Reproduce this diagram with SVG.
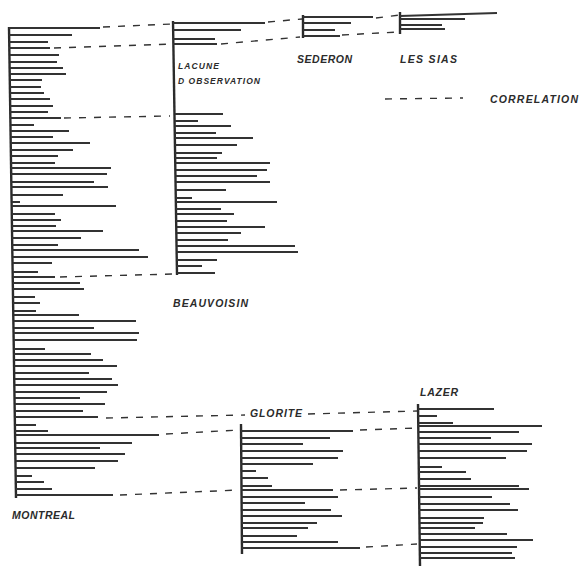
<svg xmlns="http://www.w3.org/2000/svg" width="579" height="568" viewBox="0 0 579 568">
<style>
.ax{stroke:#2b2b2b;stroke-width:2.4;fill:none}
.bar{stroke:#333;stroke-width:2;fill:none}
.cor{stroke:#333;stroke-width:1.4;stroke-dasharray:7 8;fill:none}
.lbl{font-family:"Liberation Sans",Arial,sans-serif;font-weight:bold;font-style:italic;fill:#2b2b2b;font-size:10.5px}
.sm{font-size:8.5px}
</style>
<rect width="579" height="568" fill="#fff"/>
<g id="connectors">
<path class="cor" d="M103 27 L172 24"/>
<path class="cor" d="M54 48 L172 44"/>
<path class="cor" d="M64 118 L170 116"/>
<path class="cor" d="M60 277 L173 274"/>
<path class="cor" d="M268 22 L302 19"/>
<path class="cor" d="M221 44 L300 37"/>
<path class="cor" d="M376 18 L400 15"/>
<path class="cor" d="M342 35 L398 32"/>
<path class="cor" d="M106 418 L245 415"/>
<path class="cor" d="M308 414 L417 411"/>
<path class="cor" d="M166 434 L239 430"/>
<path class="cor" d="M360 430 L417 428"/>
<path class="cor" d="M120 495 L239 490"/>
<path class="cor" d="M340 490 L417 488"/>
<path class="cor" d="M366 547 L417 544"/>
<path class="cor" d="M385 99 L463 98"/>
</g>
<g id="montreal">
<path class="ax" d="M9 27 L16 498"/>
<path class="bar" d="M9 28H100M9 35H72M9 42H48M9 48H50M10 55H59M10 62H57M10 68H63M10 74H66M10 80H42M10 87H41M10 93H44M10 99H50M10 106H53M10 112H48M10 118H61M11 125H34M11 131H69M11 137H53M11 143H90M11 150H73M11 156H58M11 163H55M11 168H111M11 174H107M11 182H94M11 187H108M12 195H63M12 202H20M12 206H116M12 214H55M12 220H61M12 226H56M12 231H103M12 238H81M12 245H58M12 250H139M13 257H148M13 263H52M13 272H38M13 277H55M13 283H80M13 289H84M13 297H35M13 303H40M14 311H36M14 315H79M14 321H136M14 328H94M14 333H139M14 340H137M14 349H45M14 354H91M14 360H103M15 366H117M15 373H89M15 379H112M15 385H118M15 392H107M15 398H80M15 404H105M15 411H83M15 417H98M15 425H36M15 431H48M16 435H159M16 443H132M16 448H100M16 454H125M16 461H118M16 468H95M16 476H32M16 482H44M16 489H52M16 495H113"/>
<text class="lbl" x="12" y="519" textLength="63" lengthAdjust="spacing">MONTREAL</text>
</g>
<g id="lacune-beauvoisin">
<path class="ax" d="M173 21 L177 275"/>
<path class="bar" d="M173 23H265M173 30H241M173 39H215M173 44H217M175 114H223M175 121H198M175 126H231M175 133H216M175 138H253M175 145H237M175 153H222M175 158H217M176 163H270M176 170H267M176 176H257M176 182H270M176 190H226M176 198H192M176 202H277M176 209H221M176 214H234M176 221H227M177 227H265M177 233H241M177 240H228M177 246H295M177 252H298M177 260H217M177 266H202M177 273H215"/>
<text class="lbl sm" x="178" y="69" textLength="41" lengthAdjust="spacing">LACUNE</text>
<text class="lbl sm" x="178" y="84" textLength="82" lengthAdjust="spacing">D OBSERVATION</text>
<text class="lbl" x="173" y="307" textLength="75" lengthAdjust="spacing">BEAUVOISIN</text>
</g>
<g id="sederon">
<path class="ax" d="M303 15 L303 38"/>
<path class="bar" d="M303 17H373M303 23H351M303 30H335M303 36H340"/>
<text class="lbl" x="297" y="63" textLength="55" lengthAdjust="spacing">SEDERON</text>
</g>
<g id="les-sias">
<path class="ax" d="M400 12 L400 34"/>
<path class="bar" d="M400 16L497 13M400 19H465M400 25H442M400 29H445"/>
<text class="lbl" x="400" y="63" textLength="57" lengthAdjust="spacing">LES SIAS</text>
</g>
<g id="legend">
<text class="lbl" x="490" y="103" textLength="88" lengthAdjust="spacing">CORRELATION</text>
</g>
<g id="glorite">
<path class="ax" d="M241 424 L242 554"/>
<path class="bar" d="M241 431H353M241 438H330M241 444H303M241 451H343M241 458H338M241 464H313M241 471H256M241 478H268M241 486H272M241 490H333M241 497H338M242 503H305M242 510H331M242 516H342M242 523H317M242 528H308M242 536H297M242 542H338M242 548H360"/>
<text class="lbl" x="250" y="417" textLength="52" lengthAdjust="spacing">GLORITE</text>
</g>
<g id="lazer">
<path class="ax" d="M418 404 L420 566"/>
<path class="bar" d="M418 409H494M418 416H437M418 423H453M418 426H542M418 432H519M418 438H491M418 444H532M419 451H527M419 458H506M419 467H442M419 472H466M419 479H471M419 486H519M419 489H529M419 497H492M419 504H510M419 510H518M420 518H484M420 523H483M420 528H475M420 534H507M420 540H533M420 547H517M420 553H512M420 558H515"/>
<text class="lbl" x="420" y="396" textLength="38" lengthAdjust="spacing">LAZER</text>
</g>
</svg>
